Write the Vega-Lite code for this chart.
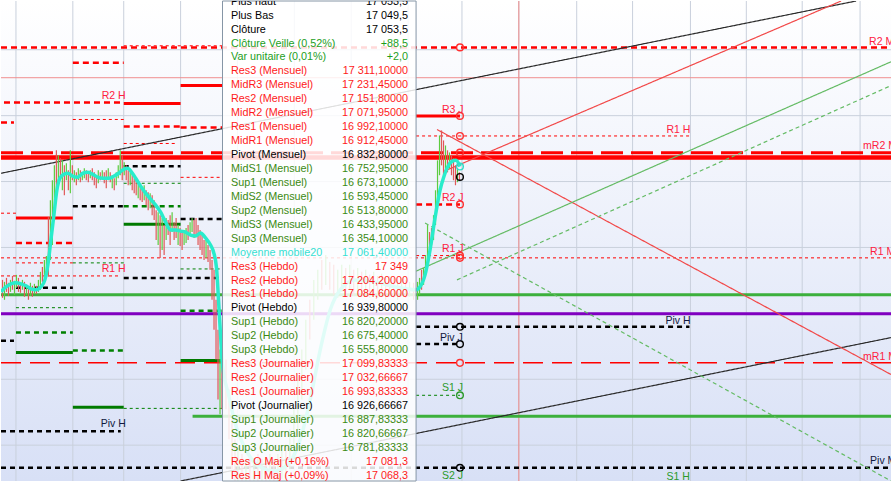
{
  "$schema": "https://vega.github.io/schema/vega-lite/v6.json",
  "width": 892,
  "height": 482,
  "autosize": {"type": "fit", "contains": "padding"},
  "padding": 0,
  "config": {"view": {"stroke": null}, "axis": {"disable": true}, "legend": {"disable": true}, "font": "Liberation Sans"},
  "datasets": {
    "hgrid": [{"p": 16850}, {"p": 16900}, {"p": 16950}, {"p": 17000}, {"p": 17050}, {"p": 17100}, {"p": 17150}],
    "vgrid": [{"t": 15}, {"t": 72}, {"t": 123}, {"t": 180}, {"t": 237}, {"t": 294}, {"t": 351}, {"t": 408}, {"t": 462}, {"t": 519}, {"t": 577}, {"t": 633}, {"t": 691}, {"t": 747}, {"t": 803}, {"t": 861}],
    "seg": [
      {"t1": 0, "t2": 892, "p": 17151.8, "k": "Res2"},
      {"t1": 0, "t2": 892, "p": 17128.8, "k": "Tendance"},
      {"t1": 0, "t2": 892, "p": 17071.95, "k": "MidR2"},
      {"t1": 0, "t2": 892, "p": 17068.3, "k": "ResMaj"},
      {"t1": 0, "t2": 892, "p": 16992.1, "k": "Res1"},
      {"t1": 0, "t2": 892, "p": 16964.1, "k": "SupMaj"},
      {"t1": 0, "t2": 892, "p": 16949.7, "k": "PivMaj"},
      {"t1": 0, "t2": 892, "p": 16912.45, "k": "MidR1"},
      {"t1": 0, "t2": 892, "p": 16832.8, "k": "Pivot"},
      {"t1": 192, "t2": 892, "p": 16871.9, "k": "SupMaj"},
      {"t1": 123, "t2": 222, "p": 17153.0, "k": "Res1"},
      {"t1": 72, "t2": 123, "p": 17140.2, "k": "Res2"},
      {"t1": 180, "t2": 222, "p": 17122.8, "k": "Res3"},
      {"t1": 3, "t2": 120, "p": 17109.9, "k": "Res2"},
      {"t1": 123, "t2": 180, "p": 17109.2, "k": "Res3"},
      {"t1": 72, "t2": 123, "p": 17097.1, "k": "Res1"},
      {"t1": 0, "t2": 13, "p": 17094.8, "k": "Res2"},
      {"t1": 123, "t2": 180, "p": 17091.8, "k": "Res2"},
      {"t1": 180, "t2": 222, "p": 17091.0, "k": "Res2"},
      {"t1": 123, "t2": 177, "p": 17078.9, "k": "Res1"},
      {"t1": 123, "t2": 180, "p": 17061.6, "k": "Pivot"},
      {"t1": 180, "t2": 222, "p": 17053.2, "k": "Res1"},
      {"t1": 123, "t2": 180, "p": 17048.7, "k": "Sup1"},
      {"t1": 72, "t2": 123, "p": 17031.3, "k": "Pivot"},
      {"t1": 123, "t2": 180, "p": 17031.3, "k": "Sup2"},
      {"t1": 0, "t2": 15, "p": 17026.0, "k": "Res1"},
      {"t1": 15, "t2": 72, "p": 17022.3, "k": "Res3"},
      {"t1": 180, "t2": 222, "p": 17021.5, "k": "Pivot"},
      {"t1": 123, "t2": 180, "p": 17017.7, "k": "Sup3"},
      {"t1": 15, "t2": 72, "p": 17003.4, "k": "Res2"},
      {"t1": 15, "t2": 72, "p": 16988.3, "k": "Res1"},
      {"t1": 72, "t2": 123, "p": 16988.3, "k": "Sup1"},
      {"t1": 180, "t2": 222, "p": 16983.7, "k": "Sup1"},
      {"t1": 0, "t2": 120, "p": 16978.4, "k": "Res1"},
      {"t1": 123, "t2": 218, "p": 16976.9, "k": "Pivot"},
      {"t1": 15, "t2": 72, "p": 16969.4, "k": "Pivot"},
      {"t1": 15, "t2": 72, "p": 16954.3, "k": "Sup1"},
      {"t1": 180, "t2": 222, "p": 16952.0, "k": "Sup2"},
      {"t1": 15, "t2": 72, "p": 16935.4, "k": "Sup2"},
      {"t1": 0, "t2": 13, "p": 16929.3, "k": "Pivot"},
      {"t1": 72, "t2": 123, "p": 16921.8, "k": "Sup2"},
      {"t1": 15, "t2": 72, "p": 16920.3, "k": "Sup3"},
      {"t1": 180, "t2": 222, "p": 16914.2, "k": "Sup3"},
      {"t1": 72, "t2": 123, "p": 16878.7, "k": "Sup3"},
      {"t1": 123, "t2": 222, "p": 16877.9, "k": "Sup1"},
      {"t1": 0, "t2": 120, "p": 16860.6, "k": "Pivot"},
      {"t1": 416, "t2": 460, "p": 17099.83, "k": "Res3"},
      {"t1": 416, "t2": 690, "p": 17084.6, "k": "Res1"},
      {"t1": 416, "t2": 460, "p": 17032.67, "k": "Res2"},
      {"t1": 416, "t2": 460, "p": 16993.83, "k": "Res1"},
      {"t1": 416, "t2": 690, "p": 16939.8, "k": "Pivot"},
      {"t1": 416, "t2": 460, "p": 16926.67, "k": "Pivot"},
      {"t1": 416, "t2": 460, "p": 16887.83, "k": "Sup1"}
    ],
    "diag": [
      {"t1": 0, "p1": 17056.3, "t2": 857, "p2": 17187.0, "k": "Canal"},
      {"t1": 180, "p1": 16822.8, "t2": 892, "p2": 16931.6, "k": "Canal"},
      {"t1": 444, "p1": 17057.8, "t2": 842, "p2": 17187.0, "k": "ObliqueR"},
      {"t1": 437, "p1": 17089.5, "t2": 892, "p2": 16903.6, "k": "ObliqueR"},
      {"t1": 416, "p1": 16982.0, "t2": 892, "p2": 17140.9, "k": "ObliqueV"},
      {"t1": 457, "p1": 16975.4, "t2": 892, "p2": 17122.8, "k": "ObliqueVd"},
      {"t1": 425, "p1": 17018.5, "t2": 892, "p2": 16822.8, "k": "ObliqueVd"}
    ],
    "candles": [
      {"t": 1, "h": 16975.4, "l": 16961.8, "d": "baisse"},
      {"t": 3, "h": 16973.9, "l": 16960.3, "d": "hausse"},
      {"t": 5, "h": 16976.9, "l": 16966.3, "d": "baisse"},
      {"t": 7, "h": 16973.2, "l": 16963.3, "d": "baisse"},
      {"t": 9, "h": 16975.4, "l": 16966.3, "d": "hausse"},
      {"t": 11, "h": 16978.4, "l": 16967.9, "d": "baisse"},
      {"t": 13, "h": 16974.7, "l": 16964.1, "d": "hausse"},
      {"t": 15, "h": 16979.2, "l": 16969.4, "d": "hausse"},
      {"t": 17, "h": 16976.9, "l": 16966.3, "d": "baisse"},
      {"t": 19, "h": 16973.2, "l": 16965.6, "d": "baisse"},
      {"t": 21, "h": 16975.4, "l": 16967.9, "d": "hausse"},
      {"t": 23, "h": 16973.9, "l": 16962.6, "d": "baisse"},
      {"t": 25, "h": 16971.6, "l": 16964.1, "d": "hausse"},
      {"t": 27, "h": 16969.4, "l": 16960.3, "d": "baisse"},
      {"t": 29, "h": 16973.2, "l": 16963.3, "d": "hausse"},
      {"t": 31, "h": 16970.9, "l": 16962.6, "d": "baisse"},
      {"t": 33, "h": 16972.4, "l": 16964.8, "d": "hausse"},
      {"t": 35, "h": 16970.9, "l": 16964.8, "d": "baisse"},
      {"t": 37, "h": 16975.4, "l": 16966.3, "d": "hausse"},
      {"t": 39, "h": 16981.5, "l": 16967.9, "d": "hausse"},
      {"t": 41, "h": 16985.2, "l": 16973.9, "d": "baisse"},
      {"t": 43, "h": 16990.5, "l": 16976.9, "d": "hausse"},
      {"t": 45, "h": 16993.6, "l": 16983.0, "d": "hausse"},
      {"t": 47, "h": 17023.0, "l": 16977.7, "d": "baisse"},
      {"t": 49, "h": 17035.9, "l": 16990.5, "d": "hausse"},
      {"t": 51, "h": 17051.0, "l": 17001.9, "d": "hausse"},
      {"t": 53, "h": 17062.3, "l": 17028.3, "d": "hausse"},
      {"t": 55, "h": 17073.7, "l": 17039.6, "d": "baisse"},
      {"t": 57, "h": 17069.9, "l": 17047.2, "d": "hausse"},
      {"t": 59, "h": 17067.6, "l": 17051.0, "d": "baisse"},
      {"t": 61, "h": 17066.1, "l": 17043.4, "d": "hausse"},
      {"t": 63, "h": 17062.3, "l": 17039.6, "d": "baisse"},
      {"t": 65, "h": 17063.8, "l": 17051.0, "d": "hausse"},
      {"t": 67, "h": 17058.5, "l": 17043.4, "d": "baisse"},
      {"t": 69, "h": 17073.7, "l": 17041.2, "d": "hausse"},
      {"t": 71, "h": 17062.3, "l": 17051.0, "d": "baisse"},
      {"t": 73, "h": 17058.5, "l": 17049.5, "d": "hausse"},
      {"t": 75, "h": 17057.0, "l": 17047.2, "d": "baisse"},
      {"t": 77, "h": 17060.1, "l": 17051.0, "d": "hausse"},
      {"t": 79, "h": 17058.5, "l": 17049.5, "d": "baisse"},
      {"t": 81, "h": 17057.0, "l": 17051.0, "d": "hausse"},
      {"t": 83, "h": 17060.1, "l": 17052.5, "d": "hausse"},
      {"t": 85, "h": 17058.5, "l": 17051.0, "d": "baisse"},
      {"t": 87, "h": 17057.0, "l": 17049.5, "d": "baisse"},
      {"t": 89, "h": 17058.5, "l": 17052.5, "d": "hausse"},
      {"t": 91, "h": 17060.1, "l": 17051.0, "d": "baisse"},
      {"t": 93, "h": 17057.0, "l": 17047.2, "d": "baisse"},
      {"t": 95, "h": 17054.8, "l": 17044.9, "d": "baisse"},
      {"t": 97, "h": 17058.5, "l": 17048.7, "d": "hausse"},
      {"t": 99, "h": 17057.0, "l": 17051.0, "d": "baisse"},
      {"t": 101, "h": 17058.5, "l": 17052.5, "d": "hausse"},
      {"t": 103, "h": 17057.0, "l": 17048.7, "d": "baisse"},
      {"t": 105, "h": 17058.5, "l": 17044.9, "d": "baisse"},
      {"t": 107, "h": 17060.1, "l": 17051.0, "d": "hausse"},
      {"t": 109, "h": 17057.0, "l": 17049.5, "d": "baisse"},
      {"t": 111, "h": 17054.8, "l": 17044.9, "d": "hausse"},
      {"t": 113, "h": 17052.5, "l": 17043.4, "d": "baisse"},
      {"t": 115, "h": 17057.0, "l": 17047.2, "d": "hausse"},
      {"t": 117, "h": 17062.3, "l": 17052.5, "d": "hausse"},
      {"t": 119, "h": 17073.7, "l": 17054.8, "d": "hausse"},
      {"t": 121, "h": 17069.9, "l": 17051.0, "d": "baisse"},
      {"t": 123, "h": 17064.6, "l": 17054.8, "d": "hausse"},
      {"t": 125, "h": 17062.3, "l": 17051.0, "d": "baisse"},
      {"t": 127, "h": 17058.5, "l": 17047.2, "d": "baisse"},
      {"t": 129, "h": 17057.0, "l": 17047.2, "d": "hausse"},
      {"t": 131, "h": 17054.8, "l": 17043.4, "d": "baisse"},
      {"t": 133, "h": 17052.5, "l": 17041.2, "d": "baisse"},
      {"t": 135, "h": 17051.0, "l": 17039.6, "d": "baisse"},
      {"t": 137, "h": 17049.5, "l": 17037.4, "d": "hausse"},
      {"t": 139, "h": 17047.2, "l": 17035.9, "d": "baisse"},
      {"t": 141, "h": 17044.9, "l": 17034.4, "d": "baisse"},
      {"t": 143, "h": 17047.2, "l": 17035.9, "d": "hausse"},
      {"t": 145, "h": 17043.4, "l": 17032.1, "d": "baisse"},
      {"t": 147, "h": 17041.9, "l": 17028.3, "d": "baisse"},
      {"t": 149, "h": 17041.2, "l": 17029.8, "d": "hausse"},
      {"t": 151, "h": 17039.6, "l": 17024.5, "d": "baisse"},
      {"t": 153, "h": 17035.9, "l": 17020.8, "d": "baisse"},
      {"t": 155, "h": 17028.3, "l": 17005.6, "d": "baisse"},
      {"t": 157, "h": 17026.8, "l": 17001.9, "d": "hausse"},
      {"t": 159, "h": 17024.5, "l": 16992.0, "d": "baisse"},
      {"t": 161, "h": 17022.3, "l": 16998.1, "d": "hausse"},
      {"t": 163, "h": 17017.0, "l": 16994.3, "d": "baisse"},
      {"t": 165, "h": 17022.3, "l": 17005.6, "d": "hausse"},
      {"t": 167, "h": 17020.8, "l": 17009.4, "d": "baisse"},
      {"t": 169, "h": 17024.5, "l": 17001.9, "d": "baisse"},
      {"t": 171, "h": 17026.8, "l": 17011.7, "d": "hausse"},
      {"t": 173, "h": 17019.2, "l": 17005.6, "d": "baisse"},
      {"t": 175, "h": 17022.3, "l": 17007.2, "d": "baisse"},
      {"t": 177, "h": 17017.0, "l": 17001.9, "d": "hausse"},
      {"t": 179, "h": 17014.7, "l": 17001.1, "d": "baisse"},
      {"t": 181, "h": 17011.7, "l": 16998.1, "d": "baisse"},
      {"t": 183, "h": 17013.2, "l": 17001.9, "d": "hausse"},
      {"t": 185, "h": 17014.7, "l": 17003.4, "d": "hausse"},
      {"t": 187, "h": 17017.0, "l": 17005.6, "d": "baisse"},
      {"t": 189, "h": 17019.2, "l": 17009.4, "d": "hausse"},
      {"t": 191, "h": 17022.3, "l": 17011.7, "d": "hausse"},
      {"t": 193, "h": 17020.8, "l": 17007.2, "d": "baisse"},
      {"t": 195, "h": 17022.3, "l": 17009.4, "d": "baisse"},
      {"t": 197, "h": 17017.0, "l": 17001.9, "d": "baisse"},
      {"t": 199, "h": 17013.2, "l": 16998.1, "d": "baisse"},
      {"t": 201, "h": 17009.4, "l": 16994.3, "d": "baisse"},
      {"t": 203, "h": 17005.6, "l": 16990.5, "d": "baisse"},
      {"t": 205, "h": 17005.6, "l": 16992.0, "d": "hausse"},
      {"t": 207, "h": 17001.9, "l": 16989.0, "d": "baisse"},
      {"t": 209, "h": 16998.1, "l": 16983.0, "d": "baisse"},
      {"t": 211, "h": 16990.5, "l": 16960.3, "d": "baisse"},
      {"t": 213, "h": 16983.0, "l": 16937.6, "d": "baisse"},
      {"t": 215, "h": 16960.3, "l": 16915.0, "d": "baisse"},
      {"t": 217, "h": 16937.6, "l": 16884.7, "d": "baisse"},
      {"t": 219, "h": 16922.5, "l": 16873.4, "d": "hausse"},
      {"t": 221, "h": 16930.1, "l": 16877.2, "d": "baisse"},
      {"t": 225, "h": 16915.0, "l": 16877.2, "d": "baisse"},
      {"t": 228, "h": 16892.3, "l": 16854.5, "d": "baisse"},
      {"t": 231, "h": 16869.6, "l": 16831.8, "d": "baisse"},
      {"t": 234, "h": 16854.5, "l": 16822.8, "d": "baisse"},
      {"t": 237, "h": 16847.0, "l": 16822.8, "d": "hausse"},
      {"t": 241, "h": 16843.2, "l": 16822.8, "d": "baisse"},
      {"t": 245, "h": 16839.4, "l": 16822.8, "d": "hausse"},
      {"t": 249, "h": 16840.9, "l": 16822.8, "d": "baisse"},
      {"t": 253, "h": 16837.9, "l": 16822.8, "d": "hausse"},
      {"t": 257, "h": 16843.2, "l": 16822.8, "d": "baisse"},
      {"t": 261, "h": 16839.4, "l": 16822.8, "d": "hausse"},
      {"t": 265, "h": 16840.9, "l": 16822.8, "d": "baisse"},
      {"t": 269, "h": 16843.2, "l": 16822.8, "d": "hausse"},
      {"t": 273, "h": 16839.4, "l": 16822.8, "d": "baisse"},
      {"t": 277, "h": 16843.2, "l": 16822.8, "d": "hausse"},
      {"t": 281, "h": 16847.0, "l": 16824.3, "d": "hausse"},
      {"t": 285, "h": 16850.7, "l": 16828.1, "d": "baisse"},
      {"t": 289, "h": 16862.1, "l": 16831.8, "d": "hausse"},
      {"t": 293, "h": 16877.2, "l": 16847.0, "d": "hausse"},
      {"t": 297, "h": 16899.9, "l": 16862.1, "d": "hausse"},
      {"t": 301, "h": 16922.5, "l": 16884.7, "d": "hausse"},
      {"t": 305, "h": 16945.2, "l": 16907.4, "d": "hausse"},
      {"t": 309, "h": 16960.3, "l": 16930.1, "d": "baisse"},
      {"t": 313, "h": 16975.4, "l": 16945.2, "d": "hausse"},
      {"t": 317, "h": 16983.0, "l": 16960.3, "d": "hausse"},
      {"t": 321, "h": 16990.5, "l": 16967.9, "d": "baisse"},
      {"t": 325, "h": 16994.3, "l": 16971.6, "d": "hausse"},
      {"t": 329, "h": 16989.0, "l": 16967.9, "d": "baisse"},
      {"t": 333, "h": 16986.8, "l": 16964.1, "d": "baisse"},
      {"t": 337, "h": 16983.0, "l": 16961.8, "d": "hausse"},
      {"t": 341, "h": 16986.8, "l": 16966.3, "d": "hausse"},
      {"t": 345, "h": 16984.5, "l": 16964.1, "d": "baisse"},
      {"t": 349, "h": 16986.8, "l": 16967.9, "d": "hausse"},
      {"t": 353, "h": 16983.0, "l": 16963.3, "d": "baisse"},
      {"t": 357, "h": 16984.5, "l": 16966.3, "d": "hausse"},
      {"t": 361, "h": 16981.5, "l": 16962.6, "d": "baisse"},
      {"t": 365, "h": 16983.0, "l": 16964.1, "d": "hausse"},
      {"t": 369, "h": 16979.2, "l": 16961.8, "d": "baisse"},
      {"t": 373, "h": 16981.5, "l": 16964.8, "d": "hausse"},
      {"t": 377, "h": 16978.4, "l": 16961.8, "d": "baisse"},
      {"t": 381, "h": 16980.0, "l": 16963.3, "d": "hausse"},
      {"t": 385, "h": 16976.9, "l": 16960.3, "d": "baisse"},
      {"t": 389, "h": 16978.4, "l": 16962.6, "d": "hausse"},
      {"t": 393, "h": 16976.9, "l": 16961.8, "d": "baisse"},
      {"t": 397, "h": 16975.4, "l": 16960.3, "d": "hausse"},
      {"t": 401, "h": 16976.9, "l": 16963.3, "d": "hausse"},
      {"t": 405, "h": 16975.4, "l": 16961.8, "d": "baisse"},
      {"t": 409, "h": 16973.9, "l": 16962.6, "d": "hausse"},
      {"t": 413, "h": 16973.2, "l": 16960.3, "d": "baisse"},
      {"t": 417, "h": 16973.9, "l": 16960.3, "d": "hausse"},
      {"t": 419, "h": 16976.9, "l": 16964.1, "d": "hausse"},
      {"t": 421, "h": 16983.0, "l": 16967.9, "d": "baisse"},
      {"t": 423, "h": 16984.5, "l": 16971.6, "d": "hausse"},
      {"t": 425, "h": 16994.3, "l": 16979.2, "d": "hausse"},
      {"t": 427, "h": 17017.0, "l": 16990.5, "d": "hausse"},
      {"t": 429, "h": 17011.7, "l": 16998.1, "d": "baisse"},
      {"t": 431, "h": 17014.7, "l": 17001.9, "d": "baisse"},
      {"t": 433, "h": 17024.5, "l": 17005.6, "d": "hausse"},
      {"t": 435, "h": 17043.4, "l": 17017.0, "d": "hausse"},
      {"t": 437, "h": 17066.1, "l": 17035.9, "d": "hausse"},
      {"t": 439, "h": 17085.0, "l": 17054.8, "d": "hausse"},
      {"t": 441, "h": 17088.8, "l": 17062.3, "d": "baisse"},
      {"t": 443, "h": 17081.2, "l": 17054.8, "d": "baisse"},
      {"t": 445, "h": 17077.4, "l": 17058.5, "d": "hausse"},
      {"t": 447, "h": 17073.7, "l": 17057.0, "d": "baisse"},
      {"t": 449, "h": 17072.1, "l": 17060.1, "d": "hausse"},
      {"t": 451, "h": 17069.9, "l": 17054.8, "d": "baisse"},
      {"t": 453, "h": 17067.6, "l": 17051.0, "d": "baisse"},
      {"t": 455, "h": 17062.3, "l": 17047.2, "d": "baisse"},
      {"t": 457, "h": 17060.1, "l": 17049.5, "d": "hausse"},
      {"t": 459, "h": 17057.0, "l": 17051.0, "d": "baisse"}
    ],
    "mm": [
      {"t": 0, "p": 16966.3}, {"t": 5, "p": 16970.1}, {"t": 10, "p": 16972.4}, {"t": 15, "p": 16973.2},
      {"t": 20, "p": 16972.4}, {"t": 25, "p": 16970.9}, {"t": 30, "p": 16968.6}, {"t": 35, "p": 16967.9},
      {"t": 40, "p": 16970.1}, {"t": 44, "p": 16975.4}, {"t": 47, "p": 16986.8}, {"t": 50, "p": 17005.6},
      {"t": 53, "p": 17024.5}, {"t": 56, "p": 17043.4}, {"t": 59, "p": 17052.5}, {"t": 63, "p": 17055.5},
      {"t": 67, "p": 17056.3}, {"t": 72, "p": 17054.0}, {"t": 77, "p": 17053.3}, {"t": 82, "p": 17056.3},
      {"t": 87, "p": 17057.0}, {"t": 92, "p": 17055.5}, {"t": 97, "p": 17053.3}, {"t": 102, "p": 17052.5},
      {"t": 108, "p": 17052.5}, {"t": 113, "p": 17054.0}, {"t": 118, "p": 17056.3}, {"t": 123, "p": 17059.3},
      {"t": 127, "p": 17060.1}, {"t": 131, "p": 17057.0}, {"t": 135, "p": 17052.5}, {"t": 140, "p": 17046.5},
      {"t": 145, "p": 17041.2}, {"t": 150, "p": 17036.6}, {"t": 155, "p": 17032.1}, {"t": 160, "p": 17026.8},
      {"t": 165, "p": 17019.2}, {"t": 170, "p": 17013.2}, {"t": 175, "p": 17013.2}, {"t": 180, "p": 17012.4},
      {"t": 185, "p": 17011.7}, {"t": 190, "p": 17009.4}, {"t": 195, "p": 17008.7}, {"t": 200, "p": 17010.9},
      {"t": 205, "p": 17007.2}, {"t": 210, "p": 17001.9}, {"t": 213, "p": 16996.6}, {"t": 216, "p": 16984.5},
      {"t": 218, "p": 16960.3}, {"t": 220, "p": 16933.9}, {"t": 222, "p": 16911.2}, {"t": 228, "p": 16888.5},
      {"t": 235, "p": 16865.8}, {"t": 245, "p": 16847.0}, {"t": 260, "p": 16833.4}, {"t": 275, "p": 16830.3},
      {"t": 290, "p": 16837.9}, {"t": 300, "p": 16854.5}, {"t": 310, "p": 16884.7}, {"t": 320, "p": 16922.5},
      {"t": 330, "p": 16952.7}, {"t": 340, "p": 16967.9}, {"t": 355, "p": 16975.4}, {"t": 375, "p": 16973.9},
      {"t": 395, "p": 16970.1}, {"t": 416, "p": 16967.9}, {"t": 420, "p": 16970.1}, {"t": 425, "p": 16979.2},
      {"t": 430, "p": 16998.1}, {"t": 435, "p": 17022.3}, {"t": 440, "p": 17043.4}, {"t": 444, "p": 17054.0},
      {"t": 448, "p": 17061.6}, {"t": 452, "p": 17065.3}, {"t": 456, "p": 17066.1}, {"t": 460, "p": 17061.4}
    ],
    "marks": [
      {"t": 460, "p": 17151.8, "k": "Res"}, {"t": 460, "p": 17099.83, "k": "Res"}, {"t": 460, "p": 17084.6, "k": "Res"},
      {"t": 460, "p": 17071.95, "k": "Res"}, {"t": 460, "p": 17061.4, "k": "MM20"}, {"t": 460, "p": 17053.5, "k": "Clôture"},
      {"t": 460, "p": 17032.67, "k": "Res"}, {"t": 460, "p": 16993.83, "k": "Res"}, {"t": 460, "p": 16992.1, "k": "Res"},
      {"t": 460, "p": 16939.8, "k": "Pivot"}, {"t": 460, "p": 16926.67, "k": "Pivot"}, {"t": 460, "p": 16912.45, "k": "Res"},
      {"t": 460, "p": 16887.83, "k": "Sup"}, {"t": 460, "p": 16832.8, "k": "Pivot"}
    ],
    "labels": [
      {"txt": "R2 H", "t": 101, "p": 17115.2, "k": "Res"},
      {"txt": "R1 H", "t": 101, "p": 16983.7, "k": "Res"},
      {"txt": "Piv H", "t": 100, "p": 16865.8, "k": "Pivot"},
      {"txt": "R3 J", "t": 442, "p": 17104.6, "k": "Res"},
      {"txt": "R2 J", "t": 442, "p": 17037.4, "k": "Res"},
      {"txt": "R1 J", "t": 442, "p": 16998.8, "k": "Res"},
      {"txt": "Piv J", "t": 440, "p": 16931.6, "k": "Pivot"},
      {"txt": "S1 J", "t": 442, "p": 16893.0, "k": "Sup"},
      {"txt": "S2 J", "t": 442, "p": 16826.5, "k": "Sup"},
      {"txt": "R1 H", "t": 667, "p": 17088.8, "k": "Res"},
      {"txt": "Piv H", "t": 666, "p": 16944.4, "k": "Pivot"},
      {"txt": "S1 H", "t": 667, "p": 16825.8, "k": "Sup"},
      {"txt": "R2 M", "t": 870, "p": 17156.0, "k": "Res"},
      {"txt": "mR2 M", "t": 864, "p": 17076.7, "k": "Res"},
      {"txt": "R1 M", "t": 871, "p": 16996.6, "k": "Res"},
      {"txt": "mR1 M", "t": 864, "p": 16917.2, "k": "Res"},
      {"txt": "Piv M", "t": 871, "p": 16837.9, "k": "Pivot"}
    ],
    "panel": [
      {"row": 0, "lib": "Plus haut", "val": "17 053,5", "g": "k"},
      {"row": 1, "lib": "Plus Bas", "val": "17 049,5", "g": "k"},
      {"row": 2, "lib": "Clôture", "val": "17 053,5", "g": "k"},
      {"row": 3, "lib": "Clôture Veille (0,52%)", "val": "+88,5", "g": "v"},
      {"row": 4, "lib": "Var unitaire (0,01%)", "val": "+2,0", "g": "v"},
      {"row": 5, "lib": "Res3 (Mensuel)", "val": "17 311,10000", "g": "r"},
      {"row": 6, "lib": "MidR3 (Mensuel)", "val": "17 231,45000", "g": "r"},
      {"row": 7, "lib": "Res2 (Mensuel)", "val": "17 151,80000", "g": "r"},
      {"row": 8, "lib": "MidR2 (Mensuel)", "val": "17 071,95000", "g": "r"},
      {"row": 9, "lib": "Res1 (Mensuel)", "val": "16 992,10000", "g": "r"},
      {"row": 10, "lib": "MidR1 (Mensuel)", "val": "16 912,45000", "g": "r"},
      {"row": 11, "lib": "Pivot (Mensuel)", "val": "16 832,80000", "g": "k"},
      {"row": 12, "lib": "MidS1 (Mensuel)", "val": "16 752,95000", "g": "s"},
      {"row": 13, "lib": "Sup1 (Mensuel)", "val": "16 673,10000", "g": "s"},
      {"row": 14, "lib": "MidS2 (Mensuel)", "val": "16 593,45000", "g": "s"},
      {"row": 15, "lib": "Sup2 (Mensuel)", "val": "16 513,80000", "g": "s"},
      {"row": 16, "lib": "MidS3 (Mensuel)", "val": "16 433,95000", "g": "s"},
      {"row": 17, "lib": "Sup3 (Mensuel)", "val": "16 354,10000", "g": "s"},
      {"row": 18, "lib": "Moyenne mobile20", "val": "17 061,40000", "g": "c"},
      {"row": 19, "lib": "Res3 (Hebdo)", "val": "17 349", "g": "r"},
      {"row": 20, "lib": "Res2 (Hebdo)", "val": "17 204,20000", "g": "r"},
      {"row": 21, "lib": "Res1 (Hebdo)", "val": "17 084,60000", "g": "r"},
      {"row": 22, "lib": "Pivot (Hebdo)", "val": "16 939,80000", "g": "k"},
      {"row": 23, "lib": "Sup1 (Hebdo)", "val": "16 820,20000", "g": "s"},
      {"row": 24, "lib": "Sup2 (Hebdo)", "val": "16 675,40000", "g": "s"},
      {"row": 25, "lib": "Sup3 (Hebdo)", "val": "16 555,80000", "g": "s"},
      {"row": 26, "lib": "Res3 (Journalier)", "val": "17 099,83333", "g": "r"},
      {"row": 27, "lib": "Res2 (Journalier)", "val": "17 032,66667", "g": "r"},
      {"row": 28, "lib": "Res1 (Journalier)", "val": "16 993,83333", "g": "r"},
      {"row": 29, "lib": "Pivot (Journalier)", "val": "16 926,66667", "g": "k"},
      {"row": 30, "lib": "Sup1 (Journalier)", "val": "16 887,83333", "g": "s"},
      {"row": 31, "lib": "Sup2 (Journalier)", "val": "16 820,66667", "g": "s"},
      {"row": 32, "lib": "Sup3 (Journalier)", "val": "16 781,83333", "g": "s"},
      {"row": 33, "lib": "Res O Maj (+0,16%)", "val": "17 081,3", "g": "r"},
      {"row": 34, "lib": "Res H Maj (+0,09%)", "val": "17 068,3", "g": "r"}
    ]
  },
  "layer": [
    {
      "layer": [
        {
          "data": {"values": [{}]},
          "mark": {"type": "rect", "color": {"gradient": "linear", "x1": 0, "y1": 0, "x2": 0, "y2": 1, "stops": [{"offset": 0, "color": "#ffffff"}, {"offset": 1, "color": "#d8e0f6"}]}},
          "encoding": {
            "x": {"datum": 0, "type": "quantitative", "scale": {"domain": [0, 892], "nice": false, "zero": false}},
            "x2": {"datum": 892},
            "y": {"datum": 16822.8, "type": "quantitative", "scale": {"domain": [16822.8, 17187], "nice": false, "zero": false}},
            "y2": {"datum": 17187}
          }
        },
        {
          "data": {"name": "hgrid"},
          "mark": {"type": "rule", "color": "#c9d0dc", "strokeWidth": 1},
          "encoding": {"y": {"field": "p", "type": "quantitative", "scale": {"domain": [16822.8, 17187], "nice": false, "zero": false}}}
        },
        {
          "data": {"name": "vgrid"},
          "mark": {"type": "rule", "color": "#c9d0dc", "strokeWidth": 1},
          "encoding": {"x": {"field": "t", "type": "quantitative", "scale": {"domain": [0, 892], "nice": false, "zero": false}}}
        },
        {
          "data": {"values": [{"t": 519}]},
          "mark": {"type": "rule", "color": "#ee8a8a", "strokeWidth": 1},
          "encoding": {"x": {"field": "t", "type": "quantitative", "scale": {"domain": [0, 892], "nice": false, "zero": false}}}
        },
        {
          "data": {"name": "seg"},
          "mark": {"type": "rule", "clip": true},
          "encoding": {
            "x": {"field": "t1", "type": "quantitative", "scale": {"domain": [0, 892], "nice": false, "zero": false}},
            "x2": {"field": "t2"},
            "y": {"field": "p", "type": "quantitative", "scale": {"domain": [16822.8, 17187], "nice": false, "zero": false}},
            "color": {"field": "k", "type": "nominal", "scale": {"domain": ["Res3", "Res2", "Res1", "Pivot", "Sup1", "Sup2", "Sup3", "MidR2", "MidR1", "ResMaj", "Tendance", "SupMaj", "PivMaj"], "range": ["#ff0000", "#ff0000", "#ff0000", "#000000", "#008000", "#008000", "#007a00", "#ff0000", "#ff0000", "#ff0000", "#f09090", "#3cb03c", "#8000c0"]}},
            "strokeDash": {"field": "k", "type": "nominal", "scale": {"domain": ["Res3", "Res2", "Res1", "Pivot", "Sup1", "Sup2", "Sup3", "MidR2", "MidR1", "ResMaj", "Tendance", "SupMaj", "PivMaj"], "range": [[1, 0], [6, 4], [3, 3], [5, 4], [3, 3], [5, 4], [1, 0], [22, 8], [20, 9], [1, 0], [1, 0], [1, 0], [1, 0]]}},
            "strokeWidth": {"field": "k", "type": "nominal", "scale": {"type": "ordinal", "domain": ["Res3", "Res2", "Res1", "Pivot", "Sup1", "Sup2", "Sup3", "MidR2", "MidR1", "ResMaj", "Tendance", "SupMaj", "PivMaj"], "range": [3, 2.5, 1, 2.5, 1, 2.5, 3, 3, 1.5, 4.5, 1, 3, 3]}}
          }
        },
        {
          "data": {"name": "diag"},
          "mark": {"type": "rule", "clip": true, "strokeWidth": 1.2},
          "encoding": {
            "x": {"field": "t1", "type": "quantitative", "scale": {"domain": [0, 892], "nice": false, "zero": false}},
            "x2": {"field": "t2"},
            "y": {"field": "p1", "type": "quantitative", "scale": {"domain": [16822.8, 17187], "nice": false, "zero": false}},
            "y2": {"field": "p2"},
            "color": {"field": "k", "type": "nominal", "scale": {"domain": ["Canal", "ObliqueR", "ObliqueV", "ObliqueVd"], "range": ["#2a2a2a", "#f24848", "#64bb64", "#64bb64"]}},
            "strokeDash": {"field": "k", "type": "nominal", "scale": {"domain": ["Canal", "ObliqueR", "ObliqueV", "ObliqueVd"], "range": [[1, 0], [1, 0], [1, 0], [4, 3]]}}
          }
        },
        {
          "data": {"name": "candles"},
          "mark": {"type": "rule", "clip": true, "strokeWidth": 1.2, "xOffset": 0.5},
          "encoding": {
            "x": {"field": "t", "type": "quantitative", "scale": {"domain": [0, 892], "nice": false, "zero": false}},
            "y": {"field": "l", "type": "quantitative", "scale": {"domain": [16822.8, 17187], "nice": false, "zero": false}},
            "y2": {"field": "h"},
            "color": {"field": "d", "type": "nominal", "scale": {"domain": ["hausse", "baisse"], "range": ["#5ccc40", "#e05858"]}}
          }
        },
        {
          "data": {"name": "mm"},
          "mark": {"type": "line", "clip": true, "color": "#28eccb", "strokeWidth": 3.5, "interpolate": "monotone"},
          "encoding": {
            "x": {"field": "t", "type": "quantitative", "scale": {"domain": [0, 892], "nice": false, "zero": false}},
            "y": {"field": "p", "type": "quantitative", "scale": {"domain": [16822.8, 17187], "nice": false, "zero": false}}
          }
        },
        {
          "data": {"name": "marks"},
          "mark": {"type": "point", "filled": false, "size": 45, "strokeWidth": 1.4, "opacity": 1},
          "encoding": {
            "x": {"field": "t", "type": "quantitative", "scale": {"domain": [0, 892], "nice": false, "zero": false}},
            "y": {"field": "p", "type": "quantitative", "scale": {"domain": [16822.8, 17187], "nice": false, "zero": false}},
            "color": {"field": "k", "type": "nominal", "scale": {"domain": ["Res", "MM20", "Clôture", "Pivot", "Sup"], "range": ["#ff3030", "#30dcc8", "#000000", "#000000", "#2a9a2a"]}}
          }
        },
        {
          "data": {"name": "labels"},
          "mark": {"type": "text", "clip": true, "align": "left", "baseline": "middle", "fontSize": 10.5, "font": "Liberation Sans"},
          "encoding": {
            "x": {"field": "t", "type": "quantitative", "scale": {"domain": [0, 892], "nice": false, "zero": false}},
            "y": {"field": "p", "type": "quantitative", "scale": {"domain": [16822.8, 17187], "nice": false, "zero": false}},
            "text": {"field": "txt"},
            "color": {"field": "k", "type": "nominal", "scale": {"domain": ["Res", "Pivot", "Sup"], "range": ["#ff2040", "#101840", "#2a9a2a"]}}
          }
        }
      ],
      "resolve": {"scale": {"color": "independent", "strokeDash": "independent", "strokeWidth": "independent"}}
    },
    {
      "layer": [
        {
          "data": {"values": [{}]},
          "mark": {"type": "rect", "fill": "#ffffff", "fillOpacity": 0.85, "stroke": "#8696a6", "strokeWidth": 1},
          "encoding": {
            "x": {"datum": 222, "type": "quantitative", "scale": {"domain": [0, 892], "nice": false, "zero": false}},
            "x2": {"datum": 416},
            "y": {"datum": -0.05, "type": "quantitative", "scale": {"domain": [-0.05, 34.379], "reverse": true, "nice": false, "zero": false}},
            "y2": {"datum": 34.379}
          }
        },
        {
          "data": {"name": "panel"},
          "mark": {"type": "text", "clip": true, "align": "left", "baseline": "middle", "fontSize": 10.8, "font": "Liberation Sans"},
          "encoding": {
            "x": {"datum": 230.5, "type": "quantitative", "scale": {"domain": [0, 892], "nice": false, "zero": false}},
            "y": {"field": "row", "type": "quantitative", "scale": {"domain": [-0.05, 34.379], "reverse": true, "nice": false, "zero": false}},
            "text": {"field": "lib"},
            "color": {"field": "g", "type": "nominal", "scale": {"domain": ["k", "v", "r", "s", "c"], "range": ["#000000", "#1c9e1c", "#ff1a1a", "#3a8a12", "#36e0d2"]}}
          }
        },
        {
          "data": {"name": "panel"},
          "mark": {"type": "text", "clip": true, "align": "right", "baseline": "middle", "fontSize": 10.8, "font": "Liberation Sans"},
          "encoding": {
            "x": {"datum": 408, "type": "quantitative", "scale": {"domain": [0, 892], "nice": false, "zero": false}},
            "y": {"field": "row", "type": "quantitative", "scale": {"domain": [-0.05, 34.379], "reverse": true, "nice": false, "zero": false}},
            "text": {"field": "val"},
            "color": {"field": "g", "type": "nominal", "scale": {"domain": ["k", "v", "r", "s", "c"], "range": ["#000000", "#1c9e1c", "#ff1a1a", "#3a8a12", "#36e0d2"]}}
          }
        }
      ]
    }
  ],
  "resolve": {"scale": {"y": "independent", "color": "independent", "strokeDash": "independent"}}
}
